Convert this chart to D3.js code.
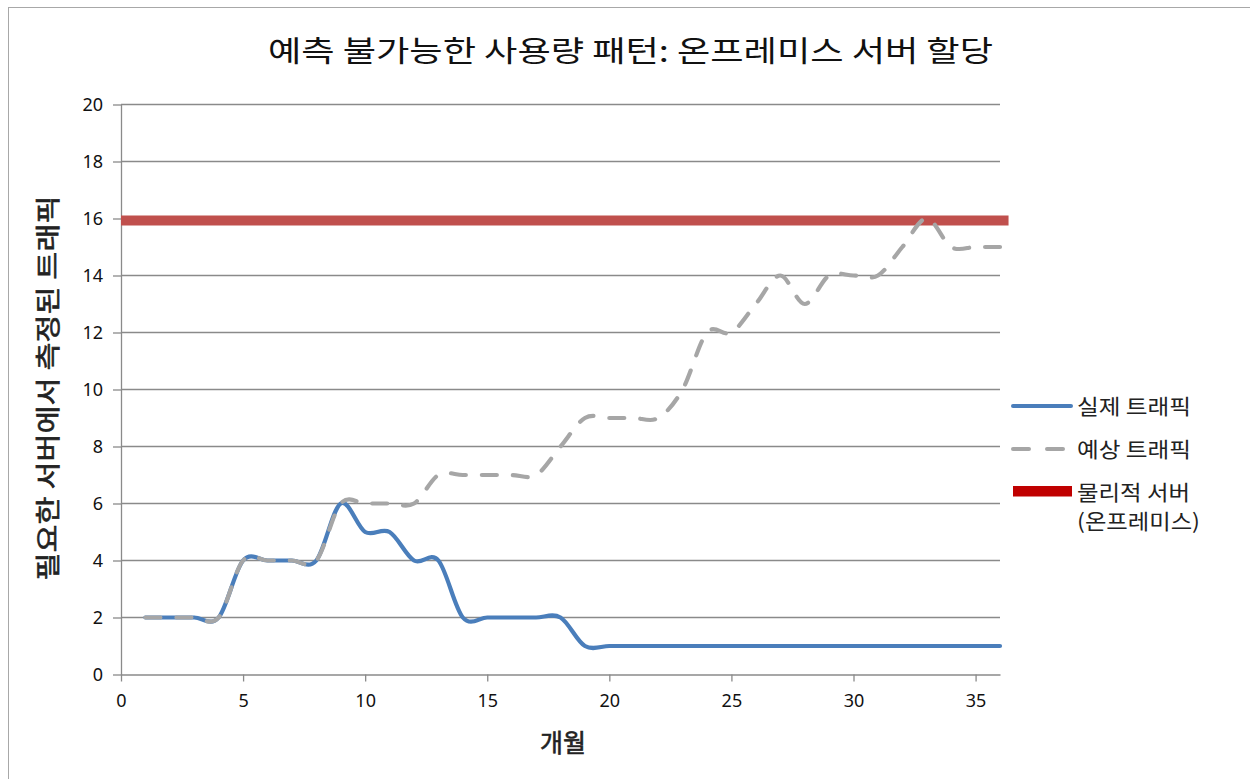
<!DOCTYPE html>
<html><head><meta charset="utf-8">
<script src="https://cdn.jsdelivr.net/npm/d3@7"></script>
<style>
html,body{margin:0;padding:0;background:#fff;}
svg{display:block;}
</style></head>
<body>
<svg id="chart" width="1250" height="779"></svg>
<script>
// ---- data ----
const months = [1,2,3,4,5,6,7,8,9,10,11,12,13,14,15,16,17,18,19,20,21,22,23,24,25,26,27,28,29,30,31,32,33,34,35,36];
const actualTraffic = [2,2,2,2,4,4,4,4,6,5,5,4,4,2,2,2,2,2,1,1,1,1,1,1,1,1,1,1,1,1,1,1,1,1,1,1];
const forecastTraffic = [2,2,2,2,4,4,4,4,6,6,6,6,7,7,7,7,7,8,9,9,9,9,10,12,12,13,14,13,14,14,14,15,16,15,15,15];
const serverMonths = [0, 36.35];
const serverCapacity = [16, 16];
const xTicks = [0,5,10,15,20,25,30,35];
const yTicks = [0,2,4,6,8,10,12,14,16,18,20];
const titleText = "예측 불가능한 사용량 패턴: 온프레미스 서버 할당";
const xTitle = "개월";
const yTitle = "필요한 서버에서 측정된 트래픽";
const legendLabels = ["실제 트래픽", "예상 트래픽", ["물리적 서버", "(온프레미스)"]];

const svg = d3.select("#chart");
const W = 1250, H = 779;
const m = {left:121, right:1000, top:104.5, bottom:674.5};

// outer frame
svg.append("rect").attr("x",8.5).attr("y",7.5).attr("width",W+10).attr("height",H+10)
  .attr("fill","none").attr("stroke","#a8a8a8").attr("stroke-width",1);

const x = d3.scaleLinear().domain([0,36]).range([m.left, m.right]);
const y = d3.scaleLinear().domain([0,20]).range([m.bottom, m.top]);

const gridColor = "#8a8a8a";
const tickFont = "'Noto Sans', 'Liberation Sans', sans-serif";
const krFont = "'Noto Sans CJK KR', sans-serif";

// gridlines
svg.append("g").selectAll("line").data(yTicks.filter(d=>d>0)).join("line")
  .attr("x1", m.left).attr("x2", m.right)
  .attr("y1", d=>y(d)).attr("y2", d=>y(d))
  .attr("stroke", gridColor).attr("stroke-width", 1.3);

// y axis
const yAxis = svg.append("g").attr("transform",`translate(${m.left},0)`)
  .call(d3.axisLeft(y).tickValues(yTicks).tickSize(8).tickPadding(10).tickSizeOuter(0));
yAxis.select(".domain").attr("stroke", gridColor).attr("stroke-width",1.3);
yAxis.selectAll(".tick line").attr("stroke", gridColor).attr("stroke-width",1.3);
yAxis.selectAll("text").attr("font-family", tickFont).attr("font-size",18).attr("fill","#111");

// x axis
const xAxis = svg.append("g").attr("transform",`translate(0,${m.bottom})`)
  .call(d3.axisBottom(x).tickValues(xTicks).tickSize(7).tickPadding(13).tickSizeOuter(0));
xAxis.select(".domain").attr("stroke", gridColor).attr("stroke-width",1.3);
xAxis.selectAll(".tick line").attr("stroke", gridColor).attr("stroke-width",1.3);
xAxis.selectAll("text").attr("font-family", tickFont).attr("font-size",18).attr("fill","#111");

// lines
const curve = d3.curveCatmullRom.alpha(0);
const line = d3.line().x(d=>x(d[0])).y(d=>y(d[1])).curve(curve);

svg.append("path").datum(serverMonths.map((mm,i)=>[mm, serverCapacity[i]]))
  .attr("d", d3.line().x(d=>x(d[0])).y(d=>y(d[1])))
  .attr("fill","none").attr("stroke","#C0504D").attr("stroke-width",10)
  .attr("transform","translate(0,2)");

svg.append("path").datum(months.map((mm,i)=>[mm, actualTraffic[i]]))
  .attr("d", line).attr("fill","none").attr("stroke","#4A7EBB").attr("stroke-width",4.2)
  .attr("stroke-linejoin","round").attr("stroke-linecap","round");

svg.append("path").datum(months.map((mm,i)=>[mm, forecastTraffic[i]]))
  .attr("d", line).attr("fill","none").attr("stroke","#A6A6A6").attr("stroke-width",4.2)
  .attr("stroke-dasharray","15,16").attr("stroke-linecap","round").attr("stroke-linejoin","round");

// title
svg.append("text").attr("x",630.5).attr("y",62).attr("text-anchor","middle")
  .attr("font-family", krFont).attr("font-size",29).attr("fill","#111")
  .attr("textLength",725).attr("lengthAdjust","spacingAndGlyphs").text(titleText);

// axis titles
svg.append("text").attr("x",563).attr("y",752).attr("text-anchor","middle")
  .attr("font-family", krFont).attr("font-size",25).attr("fill","#222")
  .attr("stroke","#222").attr("stroke-width",0.6).text(xTitle);

svg.append("text").attr("transform","translate(57,388) rotate(-90)").attr("text-anchor","middle")
  .attr("font-family", krFont).attr("font-size",25).attr("fill","#222")
  .attr("stroke","#222").attr("stroke-width",0.6)
  .attr("textLength",385).attr("lengthAdjust","spacingAndGlyphs").text(yTitle);

// legend
const lg = svg.append("g").attr("font-family", krFont).attr("font-size",21).attr("fill","#222");
lg.append("line").attr("x1",1013).attr("x2",1071).attr("y1",406).attr("y2",406)
  .attr("stroke","#4A7EBB").attr("stroke-width",4).attr("stroke-linecap","round");
lg.append("text").attr("x",1077).attr("y",414).attr("textLength",114).attr("lengthAdjust","spacingAndGlyphs").text(legendLabels[0]);
lg.append("line").attr("x1",1013).attr("x2",1071).attr("y1",449).attr("y2",449)
  .attr("stroke","#A6A6A6").attr("stroke-width",4).attr("stroke-dasharray","16,18").attr("stroke-linecap","round");
lg.append("text").attr("x",1077).attr("y",457).attr("textLength",114).attr("lengthAdjust","spacingAndGlyphs").text(legendLabels[1]);
lg.append("rect").attr("x",1013).attr("y",486).attr("width",59).attr("height",10.5).attr("fill","#C00000");
lg.append("text").attr("x",1077).attr("y",500).attr("textLength",113).attr("lengthAdjust","spacingAndGlyphs").text(legendLabels[2][0]);
lg.append("text").attr("x",1077).attr("y",529).attr("textLength",123).attr("lengthAdjust","spacingAndGlyphs").text(legendLabels[2][1]);
</script>
</body></html>
